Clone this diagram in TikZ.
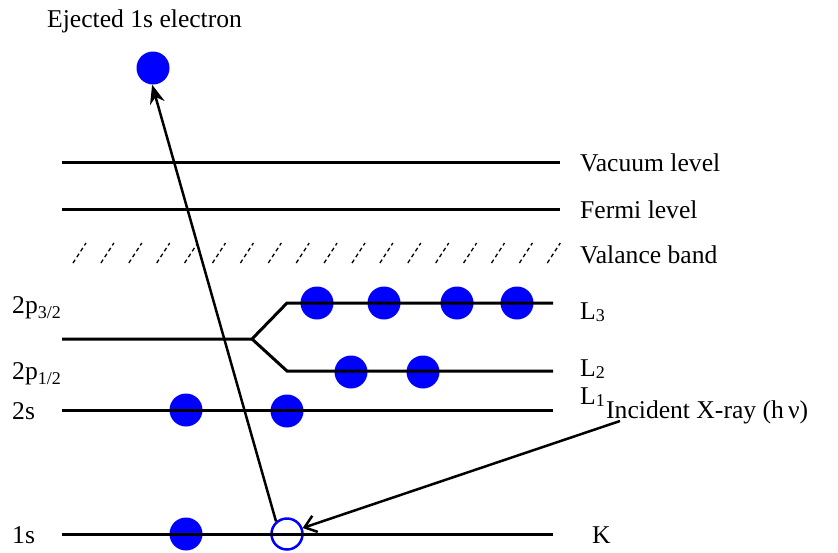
\documentclass[tikz,border=0pt]{standalone}
\usepackage{fontspec}
\setmainfont{Liberation Serif}
\usetikzlibrary{arrows.meta}
\newcommand{\lowsub}[2]{\raisebox{-#1}{\fontsize{18}{20}\selectfont #2}}
\begin{document}
\begin{tikzpicture}[x=1pt,y=-1pt,
  level/.style={line width=3pt},
  elec/.style={circle,fill=blue,minimum size=33pt,inner sep=0pt},
  holec/.style={circle,draw=blue,line width=2.5pt,minimum size=31pt,inner sep=0pt},
  lbl/.style={anchor=base west,inner sep=0pt,font=\fontsize{25.6}{30}\selectfont},
  slash/.style={line width=1.3pt,dash pattern=on 4pt off 3pt}]
\useasboundingbox (0,0) rectangle (838,552);
% electrons (drawn under the level lines)
\node[elec] (ej) at (153,68) {};
\node[elec] (l3a) at (317,303) {};
\node[elec] (l3b) at (384,303) {};
\node[elec] (l3c) at (457,303) {};
\node[elec] (l3d) at (517,303) {};
\node[elec] (l2a) at (351,372) {};
\node[elec] (l2b) at (423,372) {};
\node[elec] (s2a) at (186,410) {};
\node[elec] (s2b) at (287,411) {};
\node[elec] (s1a) at (186,534) {};
\node[holec] (hole) at (287,534) {};
% levels
\draw[level] (62,162) -- (560,162);
\draw[level] (62,209) -- (560,209);
\foreach \i in {0,...,17}
  \draw[slash] (73+\i*27.9,263) -- ++(13,-20);
\draw[level,line join=miter] (62,339) -- (252,339) -- (287,303) -- (553,303);
\draw[level,line join=miter] (252,339) -- (287,371) -- (553,371);
\draw[level] (62,410) -- (553,410);
\draw[level] (62,534) -- (553,534);
% arrows
\draw[line width=2.5pt,-{Stealth[length=19pt,width=15pt]}] (hole.131) -- (ej.267);
\coordinate (xr) at (620,421);
\draw[line width=2.5pt,-{Straight Barb[length=11pt,width=17pt,line width=2.5pt]}] (xr) -- (hole.21);
% labels
\node[lbl] (tej) at (47,27) {Ejected 1s electron};
\node[lbl] (tvac) at (580,171) {Vacuum level};
\node[lbl] (tfer) at (580,218) {Fermi level};
\node[lbl] (tval) at (580,263) {Valance band};
\node[lbl] (tl3) at (580,319) {L\lowsub{2pt}{3}};
\node[lbl] (tl2) at (580,376) {L\lowsub{2pt}{2}};
\node[lbl] (tl1) at (580,404) {L\lowsub{2pt}{1}};
\node[lbl] (tinc) at (606,418) {Incident X-ray (h\,ν)};
\node[lbl] (tk) at (592,543) {K};
\node[lbl] (t2p3) at (12,313) {2p\lowsub{5pt}{3/2}};
\node[lbl] (t2p1) at (12,379) {2p\lowsub{5pt}{1/2}};
\node[lbl] (t2s) at (12,419) {2s};
\node[lbl] (t1s) at (12,543) {1s};
\end{tikzpicture}
\end{document}
